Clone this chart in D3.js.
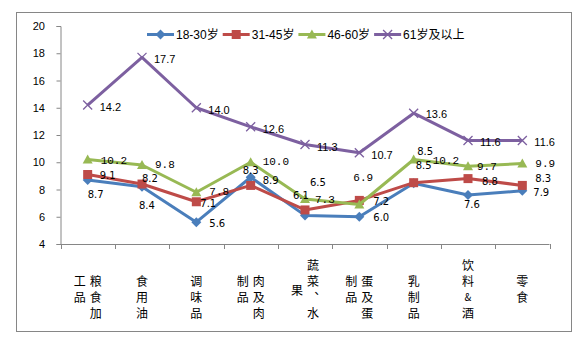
<!DOCTYPE html>
<html><head><meta charset="utf-8">
<script src="https://cdn.jsdelivr.net/npm/d3@7"></script>
<style>body{margin:0;background:#fff}svg{display:block}</style>
</head><body>
<svg id="c" width="582" height="346"></svg>
<script>
const categories = ["粮食加工品","食用油","调味品","肉及肉制品","蔬菜、水果","蛋及蛋制品","乳制品","饮料&酒","零食"];
const categoryColumns = [["粮食加","工品"],["食用油"],["调味品"],["肉及肉","制品"],["蔬菜︑水","果"],["蛋及蛋","制品"],["乳制品"],["饮料&酒"],["零食"]];
const seriesNames = ["18-30岁","31-45岁","46-60岁","61岁及以上"];
const values1830 = [8.7, 8.2, 5.6, 8.9, 6.1, 6.0, 8.46, 7.6, 7.9];
const values3145 = [9.1, 8.4, 7.1, 8.3, 6.5, 7.2, 8.5, 8.8, 8.3];
const values4660 = [10.2, 9.8, 7.8, 10.0, 7.3, 6.9, 10.2, 9.7, 9.9];
const values61 = [14.2, 17.7, 14.0, 12.6, 11.3, 10.7, 13.6, 11.6, 11.6];
const yTicks = [4, 6, 8, 10, 12, 14, 16, 18, 20];

// layout / style (not data)
const colStartRow = [[1,1],[1],[1],[1,1],[0,1.6],[1,1],[1],[0],[1]];
const labelOffsets = [
  [[0,15],[0,-8],[13,1],[12,3],[-12,-20],[14,1],[3.5,-31.5],[-4,10],[11,2]],
  [[12,1],[-3,21],[4,2],[-8,-15],[5,-27],[14,1],[2,-17.5],[14,2.4],[13,-7]],
  [[13,1.5],[13,0],[13,0],[12,-0.5],[10,1],[-6,-26.5],[19,1.5],[9,0.7],[13,0]],
  [[12,2],[12,2],[12,2],[12,2],[12,2],[12,2],[12,1],[12,2],[12,2]]
];
const colors = ["#4A7EBB","#BE4B48","#98B954","#7D60A0"];
const labelFonts = ["'DejaVu Sans'", "'DejaVu Sans'", "'Liberation Mono'", "'Liberation Sans'"];
const labelSizes = [10, 10, 11, 11];
const axisColor = "#868686";

const series = [values1830, values3145, values4660, values61].map((v,i)=>({name:seriesNames[i], values:v, i}));

const svg = d3.select("#c");
svg.append("rect").attr("x",16.5).attr("y",12.5).attr("width",555).attr("height",319)
  .attr("fill","#fff").attr("stroke",axisColor).attr("stroke-width",1);

const x = d3.scaleBand().domain(categories).range([60.5, 549.5]);
const y = d3.scaleLinear().domain([4, 20]).range([244, 26]);
const cx = c => x(c) + x.bandwidth()/2;

// Y axis
const ya = svg.append("g").attr("transform","translate(60.5,0)")
  .call(d3.axisLeft(y).tickValues(yTicks).tickSize(4).tickPadding(11.5).tickFormat(d3.format("d")));
ya.select(".domain").attr("stroke",axisColor);
ya.selectAll(".tick line").attr("stroke",axisColor);
ya.selectAll(".tick text").attr("font-family","'Liberation Sans', Arial, sans-serif").attr("font-size",11).attr("fill","#000");

// X axis
const xg = svg.append("g");
xg.append("line").attr("x1",x.range()[0]).attr("x2",x.range()[1]).attr("y1",y(4)+0.5).attr("y2",y(4)+0.5).attr("stroke",axisColor);
const bounds = categories.map(c=>x(c)).concat([x.range()[1]]);
xg.selectAll("line.t").data(bounds).join("line").attr("class","t")
  .attr("x1",d=>Math.round(d)+0.5).attr("x2",d=>Math.round(d)+0.5)
  .attr("y1",y(4)).attr("y2",y(4)+5).attr("stroke",axisColor);

// category labels (vertical text, columns right to left)
const rowY = r => 264 + 16*r;
categories.forEach((c,ci)=>{
  const cols = categoryColumns[ci];
  cols.forEach((col,k)=>{
    const colX = cols.length===2 ? cx(c) + (k===0 ? 8 : -8) : cx(c);
    Array.from(col).forEach((ch,j)=>{
      svg.append("text").attr("x",colX).attr("y",rowY(colStartRow[ci][k]+j))
        .attr("text-anchor","middle").attr("dominant-baseline","central")
        .attr("font-family","'Noto Sans CJK SC', sans-serif").attr("font-size", ch==="&"?10:12)
        .attr("fill","#000").text(ch);
    });
  });
});

// markers
function marker(g, i, px, py){
  const col = colors[i];
  if(i===0){
    g.append("path").attr("d",`M${px},${py-5}L${px+5},${py}L${px},${py+5}L${px-5},${py}Z`).attr("fill",col);
  } else if(i===1){
    g.append("rect").attr("x",px-4.5).attr("y",py-4.5).attr("width",9).attr("height",9).attr("fill",col);
  } else if(i===2){
    g.append("path").attr("d",`M${px},${py-5}L${px+5},${py+4}L${px-5},${py+4}Z`).attr("fill",col);
  } else {
    g.append("path").attr("d",`M${px-4.5},${py-4.5}L${px+4.5},${py+4.5}M${px+4.5},${py-4.5}L${px-4.5},${py+4.5}`)
      .attr("stroke",col).attr("stroke-width",1.3).attr("fill","none");
  }
}

const line = d3.line().x((d,k)=>cx(categories[k])).y(d=>y(d));
series.forEach(s=>{
  const g = svg.append("g");
  g.append("path").attr("d",line(s.values)).attr("fill","none").attr("stroke",colors[s.i])
    .attr("stroke-width",3).attr("stroke-linejoin","round");
  s.values.forEach((v,k)=>marker(g, s.i, cx(categories[k]), y(v)));
});

// data labels
series.forEach(s=>{
  s.values.forEach((v,k)=>{
    const o = labelOffsets[s.i][k];
    svg.append("text").attr("x",cx(categories[k])+o[0]).attr("y",y(v)+o[1])
      .attr("dominant-baseline","central").attr("font-family",labelFonts[s.i])
      .attr("font-size",labelSizes[s.i]).attr("fill","#000").text(d3.format(".1f")(v));
  });
});

// legend
let lx = 147; const ly = 34.5;
series.forEach(s=>{
  const g = svg.append("g");
  g.append("line").attr("x1",lx).attr("x2",lx+27).attr("y1",ly).attr("y2",ly).attr("stroke",colors[s.i]).attr("stroke-width",3);
  marker(g, s.i, lx+13.5, ly);
  const t = g.append("text").attr("x",lx+29).attr("y",ly).attr("dominant-baseline","central")
    .attr("font-family","'Liberation Sans', 'Noto Sans CJK SC', sans-serif").attr("font-size",12).attr("fill","#000").text(s.name);
  lx = lx + 29 + t.node().getComputedTextLength() + 4;
});
</script>
</body></html>
